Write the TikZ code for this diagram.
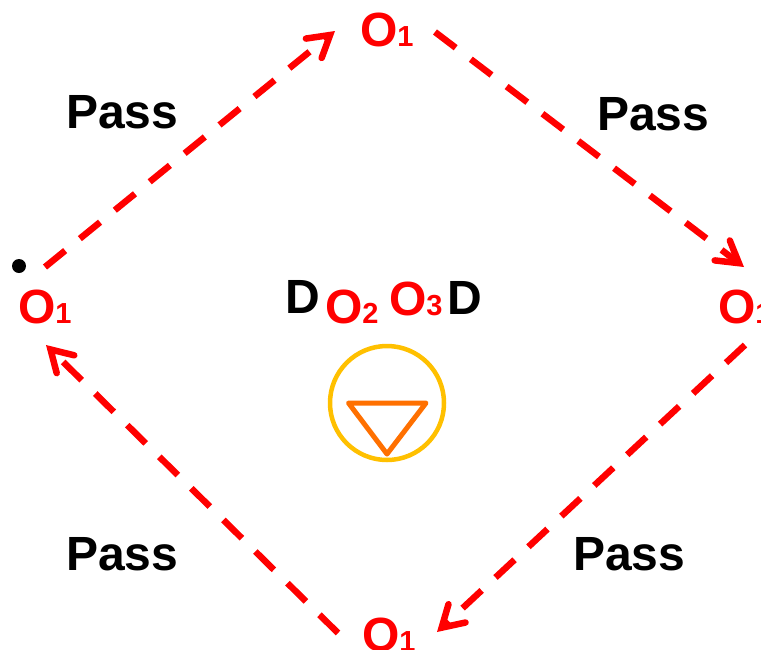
\documentclass[tikz,border=0pt]{standalone}
\usepackage{fontspec}
\setmainfont{Liberation Sans}
\usetikzlibrary{arrows.meta}
\definecolor{ozone}{RGB}{255,0,0}
\definecolor{ringc}{RGB}{255,192,0}
\definecolor{tric}{RGB}{255,112,0}
\newcommand{\ozo}[1]{O{\fontsize{29}{29}\selectfont #1}}
\tikzset{
  lbl/.style={inner sep=0pt,outer sep=0pt,anchor=base west,font=\bfseries\fontsize{48}{48}\selectfont},
  passlbl/.style={lbl,text=black},
  dlbl/.style={lbl,text=black},
  olbl/.style={lbl,text=ozone},
  flow/.style={draw=ozone,line width=6.5pt,dash pattern=on 26pt off 19pt,
    -{Straight Barb[length=21pt,width=25pt,line cap=round,line join=miter]}},
  ringline/.style={draw=ringc,line width=4.5pt},
  triline/.style={draw=tric,line width=5pt,line join=round},
  marker/.style={circle,fill=black,inner sep=0pt,minimum size=14pt}
}
\begin{document}
\begin{tikzpicture}[x=1pt,y=-1pt]
\clip (0,0) rectangle (761,649);
\fill[white] (0,0) rectangle (761,649);
\node[olbl] (oleft) at (18,323) {\ozo{1}};
\node[olbl] (otop) at (360,46) {\ozo{1}};
\node[olbl] (oright) at (718,323) {\ozo{1}};
\node[olbl] (obottom) at (362,651) {\ozo{1}};
\node[passlbl] (p1) at (66,128) {Pass};
\node[passlbl] (p2) at (597,130) {Pass};
\node[passlbl] (p3) at (66,570) {Pass};
\node[passlbl] (p4) at (573,570) {Pass};
\node[dlbl] (d1) at (285,313) {D};
\node[olbl] (o2) at (325,323) {\ozo{2}};
\node[olbl] (o3) at (389,315) {\ozo{3}};
\node[dlbl] (d2) at (447,314) {D};
\node[marker] (dot) at (19,266) {};
\coordinate (a1) at (45,267);
\coordinate (a2) at (335,31);
\coordinate (b1) at (435,32);
\coordinate (b2) at (744,267);
\coordinate (c1) at (745,345);
\coordinate (c2) at (437,632);
\coordinate (d3) at (338,633);
\coordinate (d4) at (46,345);
\draw[flow] (a1) -- (a2);
\draw[flow] (b1) -- (b2);
\draw[flow] (c1) -- (c2);
\draw[flow] (d3) -- (d4);
\node[ringline,circle,inner sep=0pt,minimum size=114pt,fill=none] (ring) at (387,403) {};
\draw[triline] (348.5,403) -- (426,403) -- (387,454) -- cycle;
\end{tikzpicture}
\end{document}
